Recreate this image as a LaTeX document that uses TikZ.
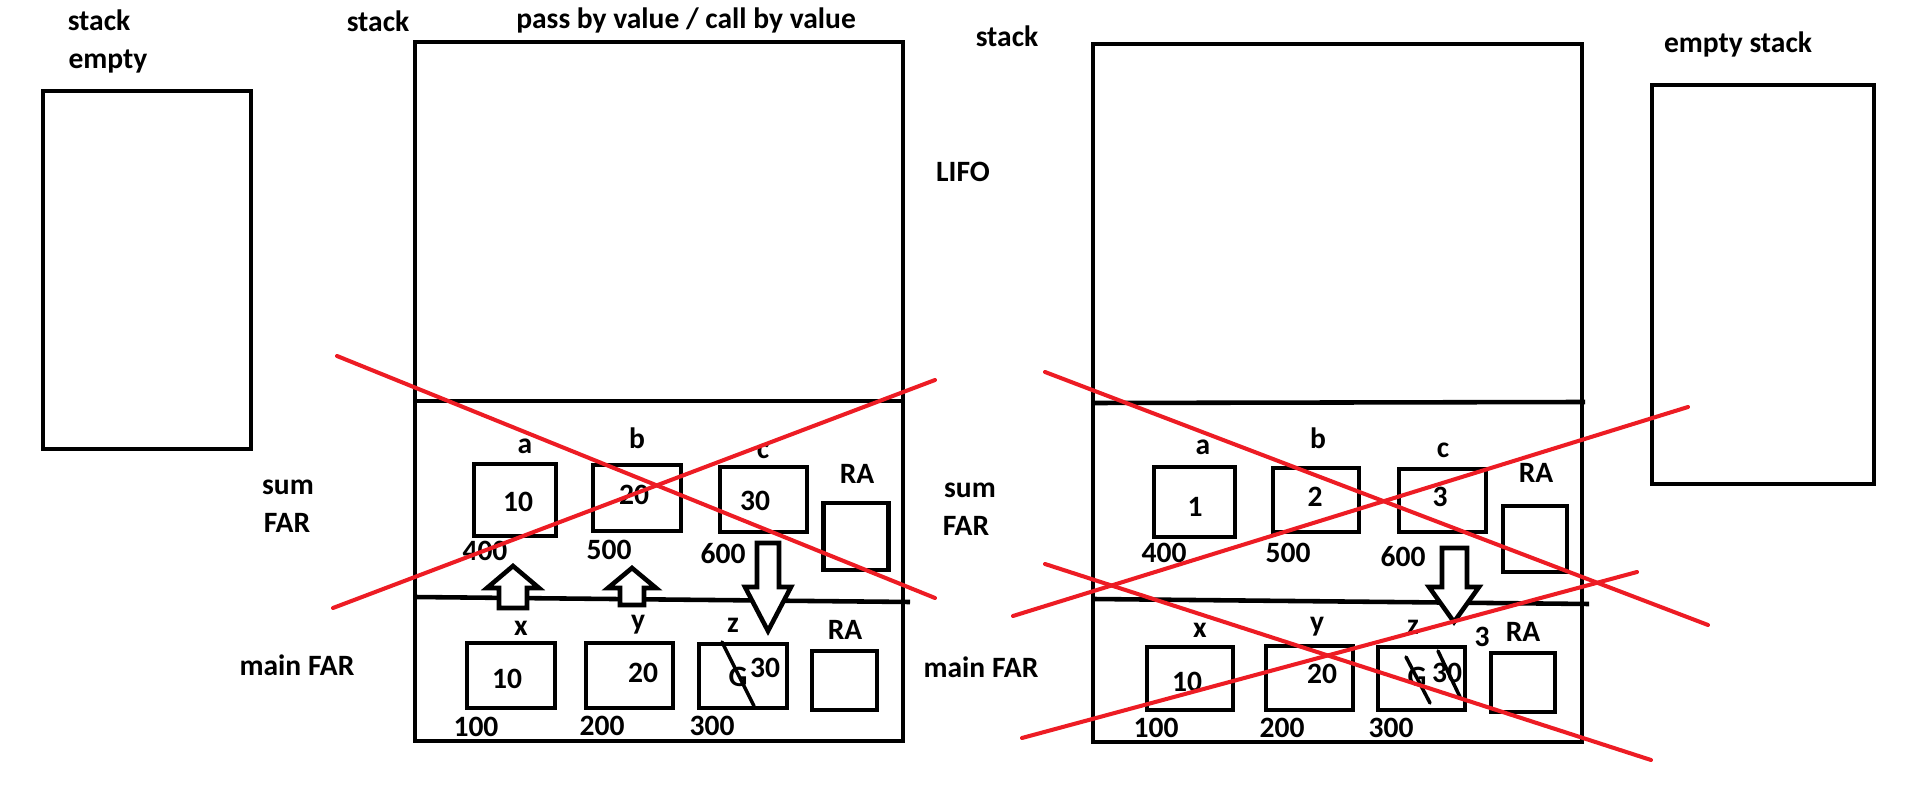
\documentclass[tikz,border=0pt]{standalone}
\usepackage{fontspec}
\setmainfont{Carlito}
\usetikzlibrary{positioning}

\definecolor{paintred}{RGB}{237,28,36}

\tikzset{
    cell/.style={draw, line width=1.3pt, minimum width=0.87cm, minimum height=0.65cm, inner sep=0pt},
    retbox/.style={draw, line width=1.3pt, minimum width=0.65cm, minimum height=0.67cm, inner sep=0pt},
    frame/.style={draw, line width=1.3pt},
    cross/.style={draw=paintred, line width=1.15pt, line cap=round},
    slash/.style={draw, line width=1pt, line cap=round},
    blockarrow/.style={draw, line width=1.3pt, fill=white, line join=miter}
}

\begin{document}
\begin{tikzpicture}[x=1cm, y=-1cm, font=\fontsize{8.4}{10}\selectfont\bfseries]
    \useasboundingbox (0,0) rectangle (19.14,8.09);

    % Empty stack on the left
    \node (lstack) at (0.99,0.20) {stack};
    \node (lempty) at (1.08,0.62) {empty};
    \draw[frame] (0.43,0.91) rectangle (2.51,4.49);

    % Headings
    \node (stackA) at (3.78,0.21) {stack};
    \node (title) at (6.86,0.20) {pass by value / call by value};
    \node (stackB) at (10.07,0.36) {stack};
    \node (lifo) at (9.63,1.72) {LIFO};

    % Frame labels
    \node (sumA) at (2.88,4.87) {sum};
    \node (farA) at (2.87,5.23) {FAR};
    \node (mainA) at (2.97,6.65) {main FAR};
    \node (sumB) at (9.70,4.90) {sum};
    \node (farB) at (9.66,5.26) {FAR};
    \node (mainB) at (9.81,6.67) {main FAR};

    % ---------------- First stack ----------------
    \draw[frame] (4.15,0.42) rectangle (9.03,7.41);
    \draw[frame] (4.15,4.01) -- (9.03,4.01);
    \draw[frame] (4.14,5.97) -- (9.10,6.02);

    % sum FAR: a, b, c, RA
    \node[cell, minimum width=0.82cm, minimum height=0.72cm] (sa1) at (5.15,5.00) {};
    \node[cell, minimum width=0.88cm, minimum height=0.66cm] (sb1) at (6.37,4.98) {};
    \node[cell] (sc1) at (7.635,4.995) {};
    \node[retbox] (sra1) at (8.56,5.365) {};
    \node (va1) at (5.18,5.02) {10};
    \node (vb1) at (6.34,4.95) {20};
    \node (vc1) at (7.55,5.01) {30};
    \node (la1) at (5.25,4.46) {a};
    \node (lb1) at (6.37,4.38) {b};
    \node (lc1) at (7.63,4.51) {c};
    \node (lra1) at (8.57,4.74) {RA};
    \node (ad4a) at (4.85,5.51) {400};
    \node (ad5a) at (6.09,5.50) {500};
    \node (ad6a) at (7.23,5.54) {600};

    % main FAR: x, y, z, RA
    \node[cell, minimum width=0.88cm] (mx1) at (5.11,6.755) {};
    \node[cell] (my1) at (6.295,6.755) {};
    \node[cell, minimum width=0.88cm, minimum height=0.64cm] (mz1) at (7.43,6.76) {};
    \node[retbox, minimum height=0.59cm] (mra1) at (8.445,6.805) {};
    \node (vx1) at (5.07,6.79) {10};
    \node (vy1) at (6.43,6.73) {20};
    \node (vg1) at (7.38,6.77) {G};
    \node (vz1) at (7.65,6.68) {30};
    \node (lx1) at (5.21,6.28) {x};
    \node (ly1) at (6.38,6.25) {y};
    \node (lz1) at (7.33,6.25) {z};
    \node (lmra1) at (8.45,6.30) {RA};
    \node (ad1a) at (4.76,7.27) {100};
    \node (ad2a) at (6.02,7.26) {200};
    \node (ad3a) at (7.12,7.26) {300};
    \draw[slash] (7.22,6.42) -- (7.54,7.06);

    % copy arrows
    \draw[blockarrow] (4.99,6.08) -- (4.99,5.88) -- (4.87,5.88) -- (5.13,5.66)
        -- (5.39,5.88) -- (5.27,5.88) -- (5.27,6.08) -- cycle;
    \draw[blockarrow] (6.20,6.05) -- (6.20,5.88) -- (6.08,5.88) -- (6.32,5.68)
        -- (6.56,5.88) -- (6.44,5.88) -- (6.44,6.05) -- cycle;
    \draw[blockarrow] (7.57,5.43) -- (7.79,5.43) -- (7.79,5.87) -- (7.91,5.87)
        -- (7.68,6.31) -- (7.45,5.87) -- (7.57,5.87) -- cycle;

    % ---------------- Second stack ----------------
    \draw[frame] (10.93,0.44) rectangle (15.82,7.42);
    \draw[frame] (10.93,4.03) -- (15.85,4.02);
    \draw[frame] (10.93,5.99) -- (15.89,6.04);

    % sum FAR: a, b, c, RA
    \node[cell, minimum width=0.81cm, minimum height=0.70cm] (sa2) at (11.945,5.02) {};
    \node[cell, minimum width=0.86cm, minimum height=0.64cm] (sb2) at (13.16,5.00) {};
    \node[cell, minimum height=0.63cm] (sc2) at (14.425,5.005) {};
    \node[retbox, minimum width=0.64cm, minimum height=0.66cm] (sra2) at (15.35,5.39) {};
    \node (va2) at (11.95,5.07) {1};
    \node (vb2) at (13.15,4.97) {2};
    \node (vc2) at (14.40,4.97) {3};
    \node (la2) at (12.03,4.47) {a};
    \node (lb2) at (13.18,4.38) {b};
    \node (lc2) at (14.43,4.50) {c};
    \node (lra2) at (15.36,4.73) {RA};
    \node (ad4b) at (11.64,5.53) {400};
    \node (ad5b) at (12.88,5.53) {500};
    \node (ad6b) at (14.03,5.57) {600};

    % main FAR: x, y, z, RA
    \node[cell, minimum width=0.86cm, minimum height=0.63cm] (mx2) at (11.90,6.785) {};
    \node[cell, minimum height=0.64cm] (my2) at (13.095,6.78) {};
    \node[cell, minimum height=0.63cm] (mz2) at (14.215,6.785) {};
    \node[retbox, minimum width=0.64cm, minimum height=0.59cm] (mra2) at (15.23,6.825) {};
    \node (vx2) at (11.87,6.82) {10};
    \node (vy2) at (13.22,6.74) {20};
    \node (vg2) at (14.17,6.77) {G};
    \node (vz2) at (14.47,6.73) {30};
    \node (lx2) at (12.00,6.30) {x};
    \node (ly2) at (13.17,6.27) {y};
    \node (lz2) at (14.13,6.27) {z};
    \node (ret2) at (14.82,6.37) {3};
    \node (lmra2) at (15.23,6.32) {RA};
    \node (ad1b) at (11.56,7.28) {100};
    \node (ad2b) at (12.82,7.28) {200};
    \node (ad3b) at (13.91,7.28) {300};
    \draw[slash] (14.06,6.57) -- (14.30,7.03);
    \draw[slash] (14.38,6.51) -- (14.60,6.97);

    % return arrow
    \draw[blockarrow] (14.42,5.48) -- (14.67,5.48) -- (14.67,5.87) -- (14.79,5.87)
        -- (14.54,6.22) -- (14.29,5.87) -- (14.42,5.87) -- cycle;

    % Empty stack on the right
    \node (rempty) at (17.38,0.44) {empty stack};
    \draw[frame] (16.52,0.85) rectangle (18.74,4.84);

    % Red crosses
    \coordinate (p1) at (3.37,3.56);  \coordinate (q1) at (9.35,5.98);
    \coordinate (p2) at (3.33,6.08);  \coordinate (q2) at (9.35,3.80);
    \coordinate (p3) at (10.45,3.72); \coordinate (q3) at (17.08,6.25);
    \coordinate (p4) at (10.13,6.16); \coordinate (q4) at (16.88,4.07);
    \coordinate (p5) at (10.45,5.64); \coordinate (q5) at (16.51,7.60);
    \coordinate (p6) at (10.22,7.38); \coordinate (q6) at (16.37,5.72);
    \draw[cross] (p1) -- (q1);
    \draw[cross] (p2) -- (q2);
    \draw[cross] (p3) -- (q3);
    \draw[cross] (p4) -- (q4);
    \draw[cross] (p5) -- (q5);
    \draw[cross] (p6) -- (q6);
\end{tikzpicture}
\end{document}
